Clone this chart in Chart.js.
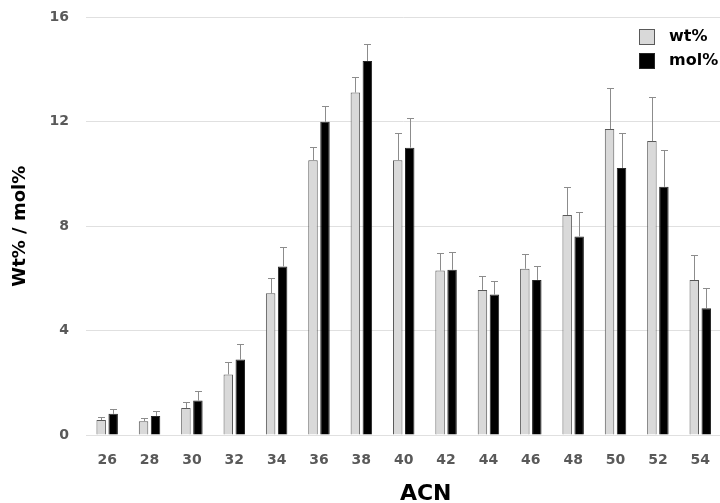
<!DOCTYPE html>
<html>
<head>
<meta charset="utf-8">
<script src="https://cdn.jsdelivr.net/npm/chart.js@4.4.0/dist/chart.umd.min.js"></script>
<style>
  html, body { margin: 0; padding: 0; background: #fff; overflow: hidden; }
  #wrap { width: 727px; height: 511px; margin-top: -8px; position: relative; }
</style>
</head>
<body>
<div id="wrap"><canvas id="acnChart"></canvas></div>
<script>
const categories = ['26', '28', '30', '32', '34', '36', '38', '40', '42', '44', '46', '48', '50', '52', '54'];
const wtValues = [0.57, 0.53, 1.03, 2.32, 5.43, 10.53, 13.12, 10.53, 6.30, 5.56, 6.37, 8.43, 11.72, 11.26, 5.94];
const wtErrors = [0.12, 0.14, 0.24, 0.46, 0.59, 0.52, 0.60, 1.06, 0.66, 0.52, 0.57, 1.06, 1.56, 1.70, 0.96];
const molValues = [0.81, 0.73, 1.32, 2.89, 6.46, 12.00, 14.33, 11.01, 6.33, 5.38, 5.94, 7.61, 10.23, 9.51, 4.86];
const molErrors = [0.17, 0.20, 0.35, 0.61, 0.73, 0.61, 0.66, 1.15, 0.69, 0.53, 0.55, 0.95, 1.35, 1.42, 0.79];
const yTicks = [0, 4, 8, 12, 16];

Chart.defaults.font.family = "'DejaVu Sans', sans-serif";

// error bars drawn on top of each bar (upper whisker only)
const errorBars = {
  id: 'errorBars',
  afterDatasetsDraw(chart) {
    const ctx = chart.ctx;
    const yScale = chart.scales.y;
    ctx.save();
    ctx.strokeStyle = '#8c8c8c';
    ctx.lineWidth = 1;
    chart.data.datasets.forEach((ds, i) => {
      const meta = chart.getDatasetMeta(i);
      meta.data.forEach((bar, j) => {
        const top = Math.round(yScale.getPixelForValue(ds.data[j] + ds.errors[j])) + 0.5;
        const x = Math.round(bar.x) + 0.5;
        ctx.beginPath();
        ctx.moveTo(x, bar.y);
        ctx.lineTo(x, top);
        ctx.moveTo(x - 3.5, top);
        ctx.lineTo(x + 3.5, top);
        ctx.stroke();
      });
    });
    ctx.restore();
  }
};

// vertical legend in the top right corner + x axis title
// (canvas is shifted up by 8px, hence the +8 on fixed y positions)
const extras = {
  id: 'extras',
  afterDraw(chart) {
    const ctx = chart.ctx;
    const area = chart.chartArea;
    ctx.save();
    chart.data.datasets.forEach((ds, i) => {
      const bx = 639, by = 37 + i * 24;
      ctx.fillStyle = ds.backgroundColor;
      ctx.fillRect(bx, by, 16, 16);
      ctx.strokeStyle = ds.borderColor;
      ctx.lineWidth = 1;
      ctx.strokeRect(bx + 0.5, by + 0.5, 15, 15);
      ctx.fillStyle = '#000';
      ctx.font = "bold 16px 'DejaVu Sans'";
      ctx.textBaseline = 'middle';
      ctx.textAlign = 'left';
      ctx.fillText(ds.label, 669, by + 8);
    });
    ctx.font = "bold 22px 'DejaVu Sans'";
    ctx.textAlign = 'center';
    ctx.textBaseline = 'middle';
    ctx.fillStyle = '#000';
    ctx.fillText('ACN', (area.left + area.right) / 2 + 22, 502);
    ctx.restore();
  }
};

new Chart(document.getElementById('acnChart'), {
  type: 'bar',
  data: {
    labels: categories,
    datasets: [
      {
        label: 'wt%',
        data: wtValues,
        errors: wtErrors,
        backgroundColor: '#d9d9d9',
        borderColor: '#595959',
        borderWidth: 1,
        barPercentage: 0.79,
        categoryPercentage: 0.566
      },
      {
        label: 'mol%',
        data: molValues,
        errors: molErrors,
        backgroundColor: '#000000',
        borderColor: '#262626',
        borderWidth: 1,
        barPercentage: 0.79,
        categoryPercentage: 0.566
      }
    ]
  },
  options: {
    responsive: true,
    maintainAspectRatio: false,
    animation: false,
    layout: { padding: 0 },
    plugins: {
      legend: { display: false },
      tooltip: { enabled: false }
    },
    scales: {
      x: {
        grid: { display: false, drawTicks: false },
        border: { display: false },
        ticks: { color: '#595959', font: { size: 14, weight: 'bold' }, padding: 17 },
        afterFit(scale) { scale.height = 68; }
      },
      y: {
        min: 0,
        max: 16,
        afterBuildTicks(scale) { scale.ticks = yTicks.map(v => ({ value: v })); },
        grid: { color: '#e0e0e0', drawTicks: false },
        border: { display: false },
        ticks: { color: '#595959', font: { size: 14, weight: 'bold' }, padding: 17 },
        title: {
          display: true,
          text: 'Wt% / mol%',
          color: '#000',
          font: { size: 18, weight: 'bold' },
          padding: { top: 10, bottom: 0 }
        },
        afterFit(scale) { scale.width = 86; }
      }
    }
  },
  plugins: [errorBars, extras]
});
</script>
</body>
</html>
